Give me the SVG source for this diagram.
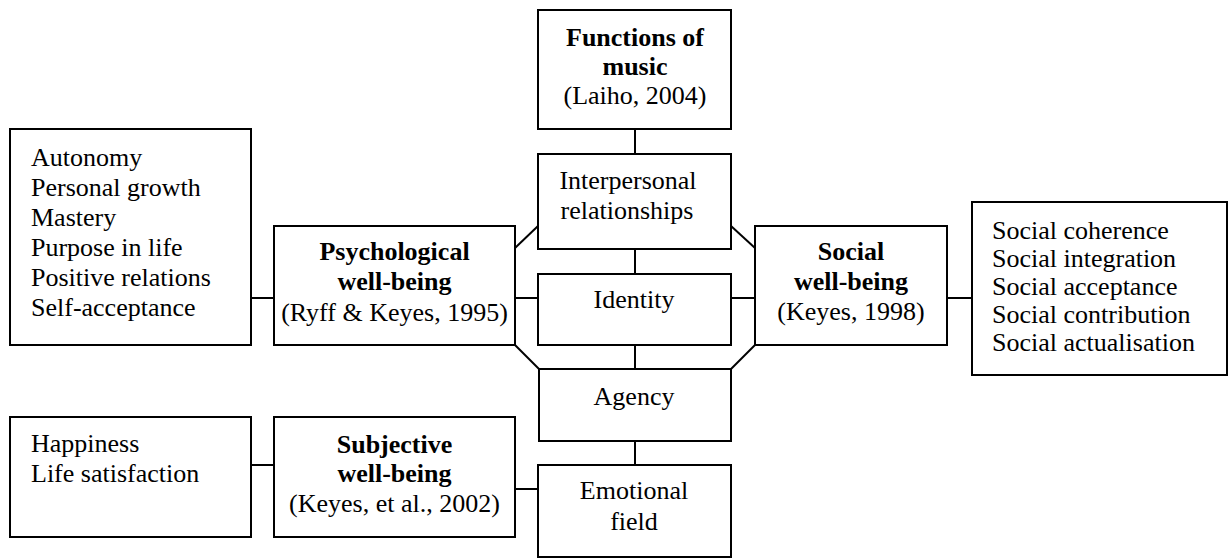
<svg xmlns="http://www.w3.org/2000/svg" width="1228" height="558" viewBox="0 0 1228 558">
<style>
.box{fill:#fff;stroke:#000;stroke-width:2}
.ln{stroke:#000;stroke-width:2;fill:none}
.t text{font-family:"Liberation Serif","Nimbus Roman","Nimbus Roman No9 L",FreeSerif,"DejaVu Serif","Noto Serif",Tinos,Times,"Times New Roman",serif;font-size:26px;fill:#000}
.c{text-anchor:middle}
.b{font-weight:bold}
</style>
<rect width="1228" height="558" fill="#fff"/>
<g id="connectors">
<line class="ln" x1="635" y1="129" x2="635" y2="154"/>
<line class="ln" x1="635" y1="249" x2="635" y2="274"/>
<line class="ln" x1="635" y1="345" x2="635" y2="369"/>
<line class="ln" x1="635" y1="441" x2="635" y2="465"/>
<line class="ln" x1="251" y1="298" x2="274" y2="298"/>
<line class="ln" x1="515" y1="298" x2="538" y2="298"/>
<line class="ln" x1="731" y1="298" x2="755" y2="298"/>
<line class="ln" x1="947" y1="298" x2="972" y2="298"/>
<line class="ln" x1="251" y1="465" x2="274" y2="465"/>
<line class="ln" x1="515" y1="489" x2="538" y2="489"/>
<line class="ln" x1="515" y1="248" x2="538" y2="226"/>
<line class="ln" x1="731" y1="226" x2="755" y2="248"/>
<line class="ln" x1="515" y1="345" x2="539" y2="369"/>
<line class="ln" x1="731" y1="369" x2="755" y2="345"/>
</g>
<g class="t">
<g id="functions">
<rect class="box" x="538" y="10" width="193" height="119"/>
<text class="c b" x="635" y="46">Functions of</text>
<text class="c b" x="635" y="75">music</text>
<text class="c" x="635" y="104">(Laiho, 2004)</text>
</g>
<g id="interpersonal">
<rect class="box" x="538" y="154" width="193" height="95"/>
<text class="c" x="628" y="189">Interpersonal</text>
<text class="c" x="627" y="219">relationships</text>
</g>
<g id="identity">
<rect class="box" x="538" y="274" width="193" height="71"/>
<text class="c" x="634" y="308">Identity</text>
</g>
<g id="agency">
<rect class="box" x="539" y="369" width="192" height="72"/>
<text class="c" x="634" y="405">Agency</text>
</g>
<g id="emotional">
<rect class="box" x="538" y="465" width="193" height="92"/>
<text class="c" x="634" y="499">Emotional</text>
<text class="c" x="634" y="530">field</text>
</g>
<g id="psych-list">
<rect class="box" x="10" y="129" width="241" height="216"/>
<text x="31" y="166">Autonomy</text>
<text x="31" y="196">Personal growth</text>
<text x="31" y="226">Mastery</text>
<text x="31" y="256">Purpose in life</text>
<text x="31" y="286">Positive relations</text>
<text x="31" y="316">Self-acceptance</text>
</g>
<g id="psych">
<rect class="box" x="274" y="226" width="241" height="119"/>
<text class="c b" x="394.5" y="260">Psychological</text>
<text class="c b" x="394.5" y="290">well-being</text>
<text class="c" x="394.5" y="321">(Ryff &amp; Keyes, 1995)</text>
</g>
<g id="social">
<rect class="box" x="755" y="226" width="192" height="119"/>
<text class="c b" x="851" y="260">Social</text>
<text class="c b" x="851" y="290">well-being</text>
<text class="c" x="851" y="320">(Keyes, 1998)</text>
</g>
<g id="social-list">
<rect class="box" x="972" y="202" width="255" height="173"/>
<text x="992" y="239">Social coherence</text>
<text x="992" y="267">Social integration</text>
<text x="992" y="295">Social acceptance</text>
<text x="992" y="323">Social contribution</text>
<text x="992" y="351">Social actualisation</text>
</g>
<g id="subjective-list">
<rect class="box" x="10" y="417" width="241" height="120"/>
<text x="31" y="452">Happiness</text>
<text x="31" y="482">Life satisfaction</text>
</g>
<g id="subjective">
<rect class="box" x="274" y="417" width="241" height="120"/>
<text class="c b" x="394.5" y="453">Subjective</text>
<text class="c b" x="394.5" y="482">well-being</text>
<text class="c" x="394.5" y="512">(Keyes, et al., 2002)</text>
</g>
</g>
</svg>
